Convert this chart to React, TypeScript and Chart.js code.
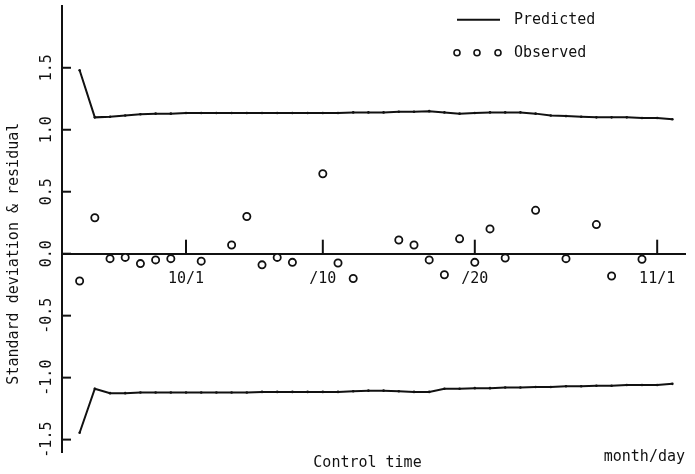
import React, { useEffect, useRef } from "react";
import { Chart, registerables } from "chart.js";

Chart.register(...registerables);

// ---- data (day index: 0 = 10/1) ----
const predictedDays = [
  -7, -6, -5, -4, -3, -2, -1, 0, 1, 2, 3, 4, 5, 6, 7, 8, 9, 10, 11, 12,
  13, 14, 15, 16, 17, 18, 19, 20, 21, 22, 23, 24, 25, 26, 27, 28, 29, 30, 31, 32,
];
const predictedUpper = [
  1.48, 1.10, 1.105, 1.115, 1.125, 1.13, 1.13,
  1.135, 1.135, 1.135, 1.135, 1.135, 1.135, 1.135, 1.135, 1.135, 1.135, 1.135,
  1.14, 1.14, 1.14, 1.145, 1.145, 1.15, 1.14, 1.13, 1.135, 1.14, 1.14, 1.14,
  1.13, 1.115, 1.11, 1.105, 1.10, 1.10, 1.10, 1.095, 1.095, 1.085,
];
const predictedLower = [
  -1.445, -1.09, -1.125, -1.125, -1.12, -1.12, -1.12,
  -1.12, -1.12, -1.12, -1.12, -1.12,
  -1.115, -1.115, -1.115, -1.115, -1.115, -1.115, -1.11, -1.105, -1.105,
  -1.11, -1.115, -1.115, -1.09, -1.09, -1.085, -1.085, -1.08, -1.08,
  -1.075, -1.075, -1.07, -1.07, -1.065, -1.065, -1.06, -1.06, -1.06, -1.05,
];
const observedDays = [
  -7, -6, -5, -4, -3, -2, -1, 1, 3, 4, 5, 6, 7, 9, 10, 11, 14, 15, 16, 17,
  18, 19, 20, 21, 23, 25, 27, 28, 30,
];
const observedValues = [
  -0.22, 0.29, -0.04, -0.03, -0.08, -0.05, -0.04, -0.06, 0.07, 0.30, -0.09, -0.03,
  -0.07, 0.645, -0.075, -0.20, 0.11, 0.07, -0.05, -0.17, 0.12, -0.07, 0.20, -0.035,
  0.35, -0.04, 0.235, -0.18, -0.045,
];
const xTickDays = [0, 9, 19, 31];
const xTickLabels = ["10/1", "/10", "/20", "11/1"];
const yTickValues = [-1.5, -1.0, -0.5, 0.0, 0.5, 1.0, 1.5];
const yTickLabels = ["-1.5", "-1.0", "-0.5", "0.0", "0.5", "1.0", "1.5"];
const legendLabels = ["Predicted", "Observed"];
const xTitle = "Control time";
const xUnit = "month/day";
const yTitle = "Standard deviation & residual";

const INK = "#111";
const FONT_FAMILY = '"DejaVu Sans Mono", "Liberation Mono", monospace';

const decorPlugin = {
  id: "decor",
  afterDraw(chart: any) {
    const { ctx, chartArea } = chart;
    const xs = chart.scales.x;
    const ys = chart.scales.y;
    const y0 = ys.getPixelForValue(0);
    ctx.save();
    ctx.strokeStyle = INK;
    ctx.fillStyle = INK;
    ctx.lineWidth = 2;
    // x tick marks (pointing up)
    xTickDays.forEach((d) => {
      const px = xs.getPixelForValue(d);
      ctx.beginPath();
      ctx.moveTo(px, y0);
      ctx.lineTo(px, y0 - 14);
      ctx.stroke();
    });
    // y tick marks (pointing inward)
    yTickValues.forEach((v) => {
      const py = ys.getPixelForValue(v);
      ctx.beginPath();
      ctx.moveTo(chartArea.left, py);
      ctx.lineTo(chartArea.left + 9, py);
      ctx.stroke();
    });
    // y tick labels (rotated)
    ctx.font = `15px ${FONT_FAMILY}`;
    ctx.textAlign = "center";
    ctx.textBaseline = "middle";
    yTickValues.forEach((v, i) => {
      const py = ys.getPixelForValue(v);
      ctx.save();
      ctx.translate(chartArea.left - 15, py);
      ctx.rotate(-Math.PI / 2);
      ctx.fillText(yTickLabels[i], 0, 0);
      ctx.restore();
    });
    // y title
    ctx.save();
    ctx.translate(chartArea.left - 48, y0);
    ctx.rotate(-Math.PI / 2);
    ctx.fillText(yTitle, 0, 0);
    ctx.restore();
    // x title & unit
    ctx.fillText(xTitle, (chartArea.left + chartArea.right) / 2 - 6, chartArea.bottom + 11);
    ctx.textAlign = "right";
    ctx.fillText(xUnit, chartArea.right, chartArea.bottom + 5);
    // legend
    const lx = chartArea.right - 228;
    const ly = chartArea.top + 14;
    ctx.lineWidth = 2;
    ctx.beginPath();
    ctx.moveTo(lx, ly);
    ctx.lineTo(lx + 43, ly);
    ctx.stroke();
    ctx.textAlign = "left";
    ctx.fillText(legendLabels[0], lx + 57, ly);
    ctx.lineWidth = 1.6;
    [0, 20, 41].forEach((dx) => {
      ctx.beginPath();
      ctx.arc(lx + dx, ly + 33, 3, 0, Math.PI * 2);
      ctx.stroke();
    });
    ctx.fillText(legendLabels[1], lx + 57, ly + 33);
    ctx.restore();
  },
};

export default function App() {
  const canvasRef = useRef<HTMLCanvasElement | null>(null);

  useEffect(() => {
    const canvas = canvasRef.current;
    if (!canvas) return;
    const lineStyle = {
      borderColor: INK,
      borderWidth: 2,
      pointRadius: 1.3,
      pointBackgroundColor: INK,
      pointBorderWidth: 0,
      showLine: true,
      fill: false,
      tension: 0,
    };
    const chart = new Chart(canvas, {
      type: "scatter",
      data: {
        datasets: [
          {
            label: "Predicted upper",
            data: predictedDays.map((d, i) => ({ x: d, y: predictedUpper[i] })),
            ...lineStyle,
          },
          {
            label: "Predicted lower",
            data: predictedDays.map((d, i) => ({ x: d, y: predictedLower[i] })),
            ...lineStyle,
          },
          {
            label: "Observed",
            data: observedDays.map((d, i) => ({ x: d, y: observedValues[i] })),
            showLine: false,
            pointRadius: 3.6,
            borderWidth: 1.8,
            borderColor: INK,
            backgroundColor: "#fff",
          },
        ],
      },
      options: {
        responsive: false,
        animation: false,
        devicePixelRatio: 1,
        layout: { padding: { left: 0, top: 5, right: 10, bottom: 22 } },
        plugins: {
          legend: { display: false },
          tooltip: { enabled: false },
        },
        scales: {
          x: {
            type: "linear",
            min: -8.16,
            max: 32.83,
            position: { y: 0 },
            grid: { display: false, drawTicks: false },
            border: { display: true, color: INK, width: 2 },
            afterBuildTicks: (s: any) => {
              s.ticks = xTickDays.map((v) => ({ value: v }));
            },
            ticks: {
              autoSkip: false,
              maxRotation: 0,
              minRotation: 0,
              padding: 16,
              color: INK,
              font: { family: FONT_FAMILY, size: 15 },
              callback: (v: any) => {
                const i = xTickDays.indexOf(Number(v));
                return i >= 0 ? xTickLabels[i] : "";
              },
            },
          },
          y: {
            type: "linear",
            min: -1.6,
            max: 2.0,
            grid: { display: false, drawTicks: false },
            border: { display: true, color: INK, width: 2 },
            afterBuildTicks: (s: any) => {
              s.ticks = yTickValues.map((v) => ({ value: v }));
            },
            ticks: { display: false },
            afterFit: (s: any) => {
              s.width = 62;
            },
          },
        },
      },
      plugins: [decorPlugin],
    } as any);
    return () => chart.destroy();
  }, []);

  return (
    <div style={{ position: "absolute", left: 0, top: 0, width: 695, height: 474, background: "#fff" }}>
      <canvas ref={canvasRef} width={695} height={474} style={{ display: "block", width: 695, height: 474 }} />
    </div>
  );
}
